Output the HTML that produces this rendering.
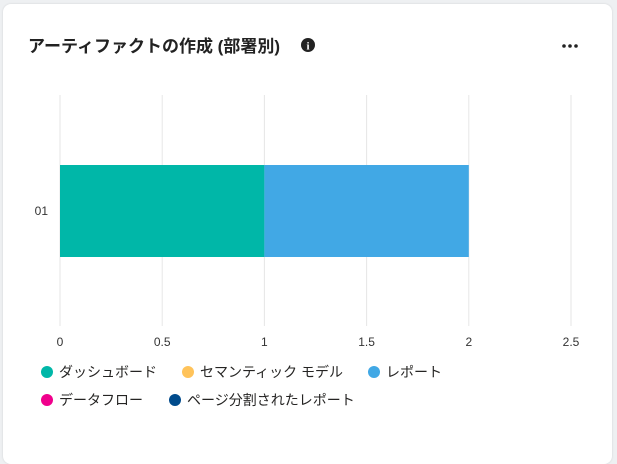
<!DOCTYPE html>
<html><head><meta charset="utf-8">
<style>
html,body{margin:0;padding:0;background:#eef0f2;width:617px;height:449px;overflow:hidden;font-family:"Liberation Sans","Noto Sans CJK JP",sans-serif;}
.card{position:absolute;left:3px;top:4px;width:609px;height:460px;background:#fff;border-radius:8px;box-shadow:0 0 2px rgba(0,0,0,0.12);}
</style></head><body>
<div class="card"></div>
<svg width="617" height="449" style="position:absolute;left:0;top:0">
<text x="28" y="52" font-size="17" font-weight="bold" fill="#222" font-family="Liberation Sans, Noto Sans CJK JP, sans-serif">アーティファクトの作成 (部署別)</text>
<g><circle cx="308" cy="45" r="7" fill="#222"/><text x="308" y="49.5" font-size="11" font-weight="bold" fill="#fff" text-anchor="middle" font-family="Liberation Serif, serif">i</text></g>
<g fill="#222"><circle cx="564" cy="46" r="1.8"/><circle cx="570" cy="46" r="1.8"/><circle cx="576" cy="46" r="1.8"/></g>
<g id="grid"></g><g id="bars"></g><g id="labels"></g><g id="legend"></g>
</svg>
<script>
const ticks=[0,0.5,1,1.5,2,2.5];
const tickLabels=["0","0.5","1","1.5","2","2.5"];
const categories=["01"];
const seriesNames=["ダッシュボード","セマンティック モデル","レポート","データフロー","ページ分割されたレポート"];
const seriesColors=["#00b7a8","#ffc35a","#41a8e5","#f0008c","#004b8c"];
const seriesValues=[[1],[0],[1],[0],[0]];
const NS="http://www.w3.org/2000/svg";
const x=v=>60+v*204.4;
const y0=165,bh=92;
function mk(t,a,p){const e=document.createElementNS(NS,t);for(const k in a)e.setAttribute(k,a[k]);p.appendChild(e);return e;}
const grid=document.getElementById('grid'),bars=document.getElementById('bars'),labels=document.getElementById('labels'),legend=document.getElementById('legend');
ticks.forEach((t,i)=>{
 const l=mk('line',{x1:x(t),x2:x(t),y1:95,y2:326,stroke:'#e6e6e6','stroke-width':1},grid);
 
 
 const tx=mk('text',{x:x(t),y:346,'font-size':12,'text-anchor':'middle',fill:'#333'},labels);
 tx.textContent=tickLabels[i];
 
 
});
categories.forEach((c,ci)=>{
 const tx=mk('text',{x:48,y:y0+bh/2+4,'font-size':12,'text-anchor':'end',fill:'#333'},labels);
 tx.textContent=c;
 
 
 let acc=0;
 seriesValues.forEach((s,si)=>{
  const v=s[ci]; if(v<=0)return;
  const r=mk('rect',{x:x(acc),y:y0,width:x(acc+v)-x(acc),height:bh,fill:seriesColors[si]},bars);
  
  
  acc+=v;
 });
});
const pos=[[47,372],[188,372],[374,372],[47,400],[175,400]];
seriesNames.forEach((n,i)=>{
 const g=mk('g',{},legend);
 
 
 mk('circle',{cx:pos[i][0],cy:pos[i][1],r:6,fill:seriesColors[i]},g);
 const t=mk('text',{x:pos[i][0]+12,y:pos[i][1]+5,'font-size':14,fill:'#252423'},g);
 t.textContent=n;
});
</script>
</body></html>
